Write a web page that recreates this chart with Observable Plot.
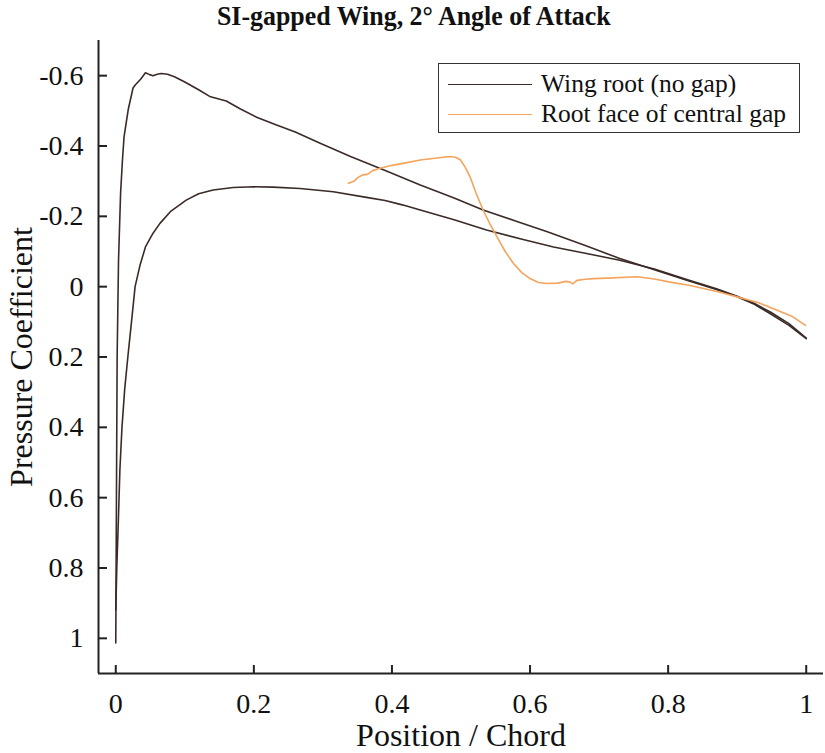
<!DOCTYPE html>
<html>
<head>
<meta charset="utf-8">
<script src="https://cdn.jsdelivr.net/npm/d3@7"></script>
<script src="https://cdn.jsdelivr.net/npm/@observablehq/plot@0.6"></script>
<style>
  html, body { margin: 0; padding: 0; background: #fff; }
  #wrap { position: relative; width: 825px; height: 753px; font-family: "Liberation Serif", "Times New Roman", serif; color: #111; }
  #title { position: absolute; left: 0; top: 0px; width: 828px; text-align: center; font-weight: bold; font-size: 28px; line-height: 32px; }
  #title span { display: inline-block; transform: scaleX(0.925); transform-origin: center; white-space: nowrap; }
  #legend { position: absolute; left: 438px; top: 63px; width: 360px; height: 68px; border: 1.5px solid #333; background: #fff; }
  .row { position: absolute; left: 0; height: 30px; display: flex; align-items: center; font-size: 25.5px; }
  .sw { width: 84px; height: 0; margin-left: 9px; margin-right: 9px; }
  #chart svg g[aria-label="x-axis label"] text,
  #chart svg g[aria-label="y-axis label"] text { font-size: 32px; }
</style>
</head>
<body>
<div id="wrap">
  <div id="title"><span>SI-gapped Wing, 2° Angle of Attack</span></div>
  <div id="chart"></div>
  <div id="legend"></div>
</div>
<script>
// Wing root (no gap) — upper surface (including leading-edge descent to stagnation)
const upperX = [0.000, 0.001, 0.002, 0.004, 0.007, 0.0097, 0.012, 0.018, 0.025, 0.0285, 0.036, 0.043, 0.049, 0.054, 0.060, 0.066, 0.075, 0.085, 0.100, 0.120, 0.136, 0.160, 0.180, 0.204, 0.230, 0.260, 0.296, 0.340, 0.392, 0.441, 0.490, 0.532, 0.580, 0.624, 0.680, 0.730, 0.780, 0.827, 0.870, 0.900, 0.925, 0.948, 0.975, 1.000];
const upperCp = [1.013, 0.60, 0.20, -0.075, -0.266, -0.36, -0.426, -0.503, -0.565, -0.574, -0.590, -0.608, -0.603, -0.600, -0.604, -0.606, -0.604, -0.597, -0.582, -0.560, -0.541, -0.528, -0.506, -0.482, -0.462, -0.440, -0.408, -0.370, -0.329, -0.289, -0.252, -0.218, -0.186, -0.157, -0.117, -0.080, -0.048, -0.018, 0.008, 0.029, 0.050, 0.077, 0.110, 0.148];
// Wing root (no gap) — lower surface
const lowerX = [0.000, 0.0015, 0.004, 0.006, 0.009, 0.013, 0.018, 0.023, 0.028, 0.035, 0.043, 0.054, 0.064, 0.080, 0.102, 0.120, 0.141, 0.170, 0.200, 0.228, 0.267, 0.315, 0.363, 0.390, 0.412, 0.420, 0.441, 0.490, 0.537, 0.590, 0.634, 0.680, 0.730, 0.780, 0.827, 0.870, 0.900, 0.925, 0.948, 0.975, 1.000];
const lowerCp = [0.92, 0.80, 0.65, 0.52, 0.40, 0.29, 0.19, 0.096, 0.0, -0.06, -0.113, -0.152, -0.180, -0.215, -0.246, -0.264, -0.275, -0.282, -0.284, -0.283, -0.279, -0.270, -0.254, -0.245, -0.234, -0.230, -0.218, -0.190, -0.161, -0.134, -0.113, -0.095, -0.075, -0.050, -0.020, 0.006, 0.027, 0.048, 0.072, 0.105, 0.146];
// Root face of central gap
const gapX = [0.337, 0.345, 0.352, 0.358, 0.365, 0.372, 0.383, 0.400, 0.420, 0.441, 0.462, 0.484, 0.492, 0.499, 0.506, 0.513, 0.522, 0.532, 0.542, 0.552, 0.564, 0.576, 0.588, 0.600, 0.612, 0.624, 0.640, 0.652, 0.658, 0.662, 0.668, 0.680, 0.692, 0.720, 0.755, 0.780, 0.803, 0.830, 0.851, 0.875, 0.900, 0.930, 0.958, 0.980, 0.999];
const gapCp = [-0.294, -0.300, -0.312, -0.318, -0.320, -0.330, -0.337, -0.345, -0.352, -0.360, -0.365, -0.370, -0.368, -0.361, -0.340, -0.313, -0.265, -0.218, -0.178, -0.142, -0.100, -0.066, -0.040, -0.023, -0.012, -0.009, -0.010, -0.015, -0.013, -0.008, -0.018, -0.021, -0.023, -0.025, -0.028, -0.022, -0.013, -0.004, 0.005, 0.016, 0.029, 0.045, 0.067, 0.085, 0.110];

const xTicks = [0, 0.2, 0.4, 0.6, 0.8, 1];
const yTicks = [-0.6, -0.4, -0.2, 0, 0.2, 0.4, 0.6, 0.8, 1];
const xDomain = [-0.025, 1.025];
const yDomain = [-0.7, 1.1];
const seriesNames = ["Wing root (no gap)", "Root face of central gap"];
const seriesColors = ["#3b2b27", "#f4a45c"];

const rows = [];
upperX.forEach((x, i) => rows.push({x, cp: upperCp[i], series: seriesNames[0], part: "upper"}));
lowerX.forEach((x, i) => rows.push({x, cp: lowerCp[i], series: seriesNames[0], part: "lower"}));
gapX.forEach((x, i) => rows.push({x, cp: gapCp[i], series: seriesNames[1], part: "gap"}));

const fmt = d => `${Math.round(d * 10) / 10}`;
const font = '"Liberation Serif", "Times New Roman", serif';

const chart = Plot.plot({
  width: 825,
  height: 753,
  marginTop: 40,
  marginBottom: 80,
  marginLeft: 98,
  marginRight: 2,
  style: { fontFamily: font, fontSize: "28px", color: "#111", background: "#fff" },
  x: { domain: xDomain },
  y: { domain: yDomain, reverse: true },
  color: { domain: seriesNames, range: seriesColors },
  marks: [
    Plot.line(rows, { x: "x", y: "cp", z: "part", stroke: "series", strokeWidth: 1.6 }),
    Plot.ruleX([xDomain[0]], { stroke: "#222", strokeWidth: 2 }),
    Plot.ruleY([yDomain[1]], { stroke: "#222", strokeWidth: 2 }),
    Plot.axisX(xTicks, { tickSize: -8, tickPadding: 28, tickFormat: fmt, strokeWidth: 2, stroke: "#222", fontSize: 28,
      label: "Position / Chord", labelAnchor: "center", labelOffset: 72, labelArrow: "none" }),
    Plot.axisY(yTicks, { tickSize: -9, tickPadding: 24, tickFormat: fmt, strokeWidth: 2, stroke: "#222", fontSize: 28,
      label: "Pressure Coefficient", labelAnchor: "center", labelOffset: 89, labelArrow: "none" })
  ]
});
document.getElementById("chart").appendChild(chart);

const leg = document.getElementById("legend");
seriesNames.forEach((name, i) => {
  const r = document.createElement("div");
  r.className = "row";
  r.style.top = (5 + i * 30) + "px";
  const s = document.createElement("div");
  s.className = "sw";
  s.style.borderTop = `1.6px solid ${seriesColors[i]}`;
  const t = document.createElement("span");
  t.textContent = name;
  r.appendChild(s); r.appendChild(t);
  leg.appendChild(r);
});
</script>
</body>
</html>
